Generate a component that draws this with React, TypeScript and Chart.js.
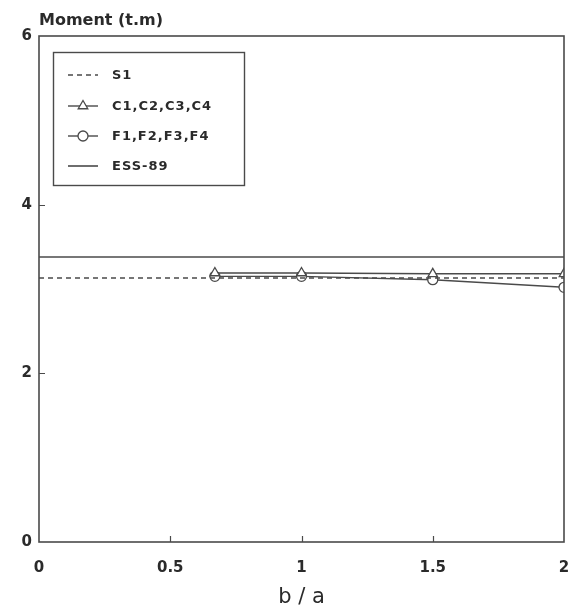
import React, { useEffect, useRef } from "react";
import { Chart, registerables } from "chart.js";

Chart.register(...registerables);

// b/a ratios of the analysed cases
const ratios = [0.67, 1, 1.5, 2];
// Moment (t.m) for each model family
const momentC = [3.19, 3.19, 3.18, 3.18];
const momentF = [3.15, 3.15, 3.11, 3.02];
// Reference levels drawn across the full range
const rangeX = [0, 2];
const momentS1 = [3.13, 3.13];
const momentESS = [3.38, 3.38];

const xTicks = [0, 0.5, 1, 1.5, 2];
const yTicks = [0, 2, 4, 6];

const seriesLabels = ["S1", "C1,C2,C3,C4", "F1,F2,F3,F4", "ESS-89"];

const INK = "#4a4a4a";
const TEXT = "#2a2a2a";
const FONT = "'DejaVu Sans', sans-serif";

const pts = (xs: number[], ys: number[]) => xs.map((x, i) => ({ x, y: ys[i] }));

// Frame, inward ticks, axis caption and the boxed legend
const decorations = {
  id: "decorations",
  afterDraw(chart: any) {
    const { ctx, chartArea: a, scales } = chart;
    const xs = scales.x;
    const ys = scales.y;
    ctx.save();
    ctx.strokeStyle = INK;
    ctx.lineWidth = 1.6;
    ctx.strokeRect(a.left, a.top, a.right - a.left, a.bottom - a.top);

    ctx.lineWidth = 1.2;
    ctx.beginPath();
    xTicks.slice(1, -1).forEach((v) => {
      const px = Math.round(xs.getPixelForValue(v)) + 0.5;
      ctx.moveTo(px, a.bottom);
      ctx.lineTo(px, a.bottom - 6);
    });
    yTicks.slice(1, -1).forEach((v) => {
      const py = Math.round(ys.getPixelForValue(v)) + 0.5;
      ctx.moveTo(a.left, py);
      ctx.lineTo(a.left + 6, py);
    });
    ctx.stroke();

    // y caption above the frame
    ctx.fillStyle = TEXT;
    ctx.font = `bold 16px ${FONT}`;
    ctx.textAlign = "left";
    ctx.textBaseline = "middle";
    ctx.fillText("Moment (t.m)", a.left, 21);

    // legend box
    const bx = 53, by = 52, bw = 191, bh = 133;
    ctx.lineWidth = 1.4;
    ctx.strokeStyle = INK;
    ctx.strokeRect(bx + 0.5, by + 0.5, bw, bh);

    const rowY = [75, 106, 136, 166];
    const x0 = 68, x1 = 98, xm = 83;
    chart.data.datasets.forEach((ds: any, i: number) => {
      const y = rowY[i];
      ctx.save();
      ctx.strokeStyle = ds.borderColor;
      ctx.lineWidth = ds.borderWidth;
      ctx.setLineDash(ds.borderDash || []);
      ctx.beginPath();
      ctx.moveTo(x0, y);
      ctx.lineTo(x1, y);
      ctx.stroke();
      ctx.setLineDash([]);
      if (ds.pointRadius > 0) {
        ctx.fillStyle = "#ffffff";
        ctx.lineWidth = 1.3;
        ctx.beginPath();
        if (ds.pointStyle === "triangle") {
          const r = 5.5;
          ctx.moveTo(xm, y - r);
          ctx.lineTo(xm + r * 0.87, y + r * 0.5);
          ctx.lineTo(xm - r * 0.87, y + r * 0.5);
          ctx.closePath();
        } else {
          ctx.arc(xm, y, 5, 0, Math.PI * 2);
        }
        ctx.fill();
        ctx.stroke();
      }
      ctx.restore();
      ctx.fillStyle = TEXT;
      ctx.font = `bold 13px ${FONT}`;
      ctx.textBaseline = "middle";
      (ctx as any).letterSpacing = "1px";
      ctx.fillText(ds.label, 112, y + 1);
      (ctx as any).letterSpacing = "0px";
    });
    ctx.restore();
  },
};

export default function App() {
  const ref = useRef<HTMLCanvasElement>(null);

  useEffect(() => {
    document.body.style.margin = "0";
    const canvas = ref.current;
    if (!canvas) return;
    const chart = new Chart(canvas, {
      type: "line",
      data: {
        datasets: [
          {
            label: seriesLabels[0],
            data: pts(rangeX, momentS1),
            borderColor: INK,
            borderWidth: 1.4,
            borderDash: [5, 4],
            pointRadius: 0,
          },
          {
            label: seriesLabels[1],
            data: pts(ratios, momentC),
            borderColor: INK,
            borderWidth: 1.4,
            pointStyle: "triangle",
            pointRadius: 5.5,
            pointBorderWidth: 1.3,
            pointBackgroundColor: "#ffffff",
            pointBorderColor: INK,
          },
          {
            label: seriesLabels[2],
            data: pts(ratios, momentF),
            borderColor: INK,
            borderWidth: 1.4,
            pointStyle: "circle",
            pointRadius: 5,
            pointBorderWidth: 1.3,
            pointBackgroundColor: "#ffffff",
            pointBorderColor: INK,
          },
          {
            label: seriesLabels[3],
            data: pts(rangeX, momentESS),
            borderColor: INK,
            borderWidth: 1.6,
            pointRadius: 0,
          },
        ],
      },
      options: {
        responsive: false,
        animation: false,
        events: [],
        layout: { padding: { left: 0, right: 17, top: 36, bottom: 0 } },
        plugins: {
          legend: { display: false },
          tooltip: { enabled: false },
        },
        scales: {
          x: {
            type: "linear",
            min: 0,
            max: 2,
            afterFit: (s: any) => {
              s.height = 72;
              s.paddingRight = 0;
              s.paddingLeft = 0;
            },
            afterBuildTicks: (s: any) => {
              s.ticks = xTicks.map((v) => ({ value: v }));
            },
            grid: { display: false, drawTicks: false },
            border: { display: false },
            ticks: {
              padding: 17,
              color: TEXT,
              font: { family: FONT, size: 15, weight: "bold" },
              callback: (v: any) => String(v),
            },
            title: {
              display: true,
              text: "b / a",
              color: TEXT,
              font: { family: FONT, size: 21 },
              padding: { top: 0, bottom: 4 },
            },
          },
          y: {
            type: "linear",
            min: 0,
            max: 6,
            afterFit: (s: any) => {
              s.width = 39;
              s.paddingTop = 0;
              s.paddingBottom = 0;
            },
            afterBuildTicks: (s: any) => {
              s.ticks = yTicks.map((v) => ({ value: v }));
            },
            grid: { display: false, drawTicks: false },
            border: { display: false },
            ticks: {
              padding: 7,
              color: TEXT,
              font: { family: FONT, size: 15, weight: "bold" },
              callback: (v: any) => String(v),
            },
          },
        },
      },
      plugins: [decorations],
    });
    return () => chart.destroy();
  }, []);

  return <canvas ref={ref} width={581} height={614} style={{ display: "block" }} />;
}
